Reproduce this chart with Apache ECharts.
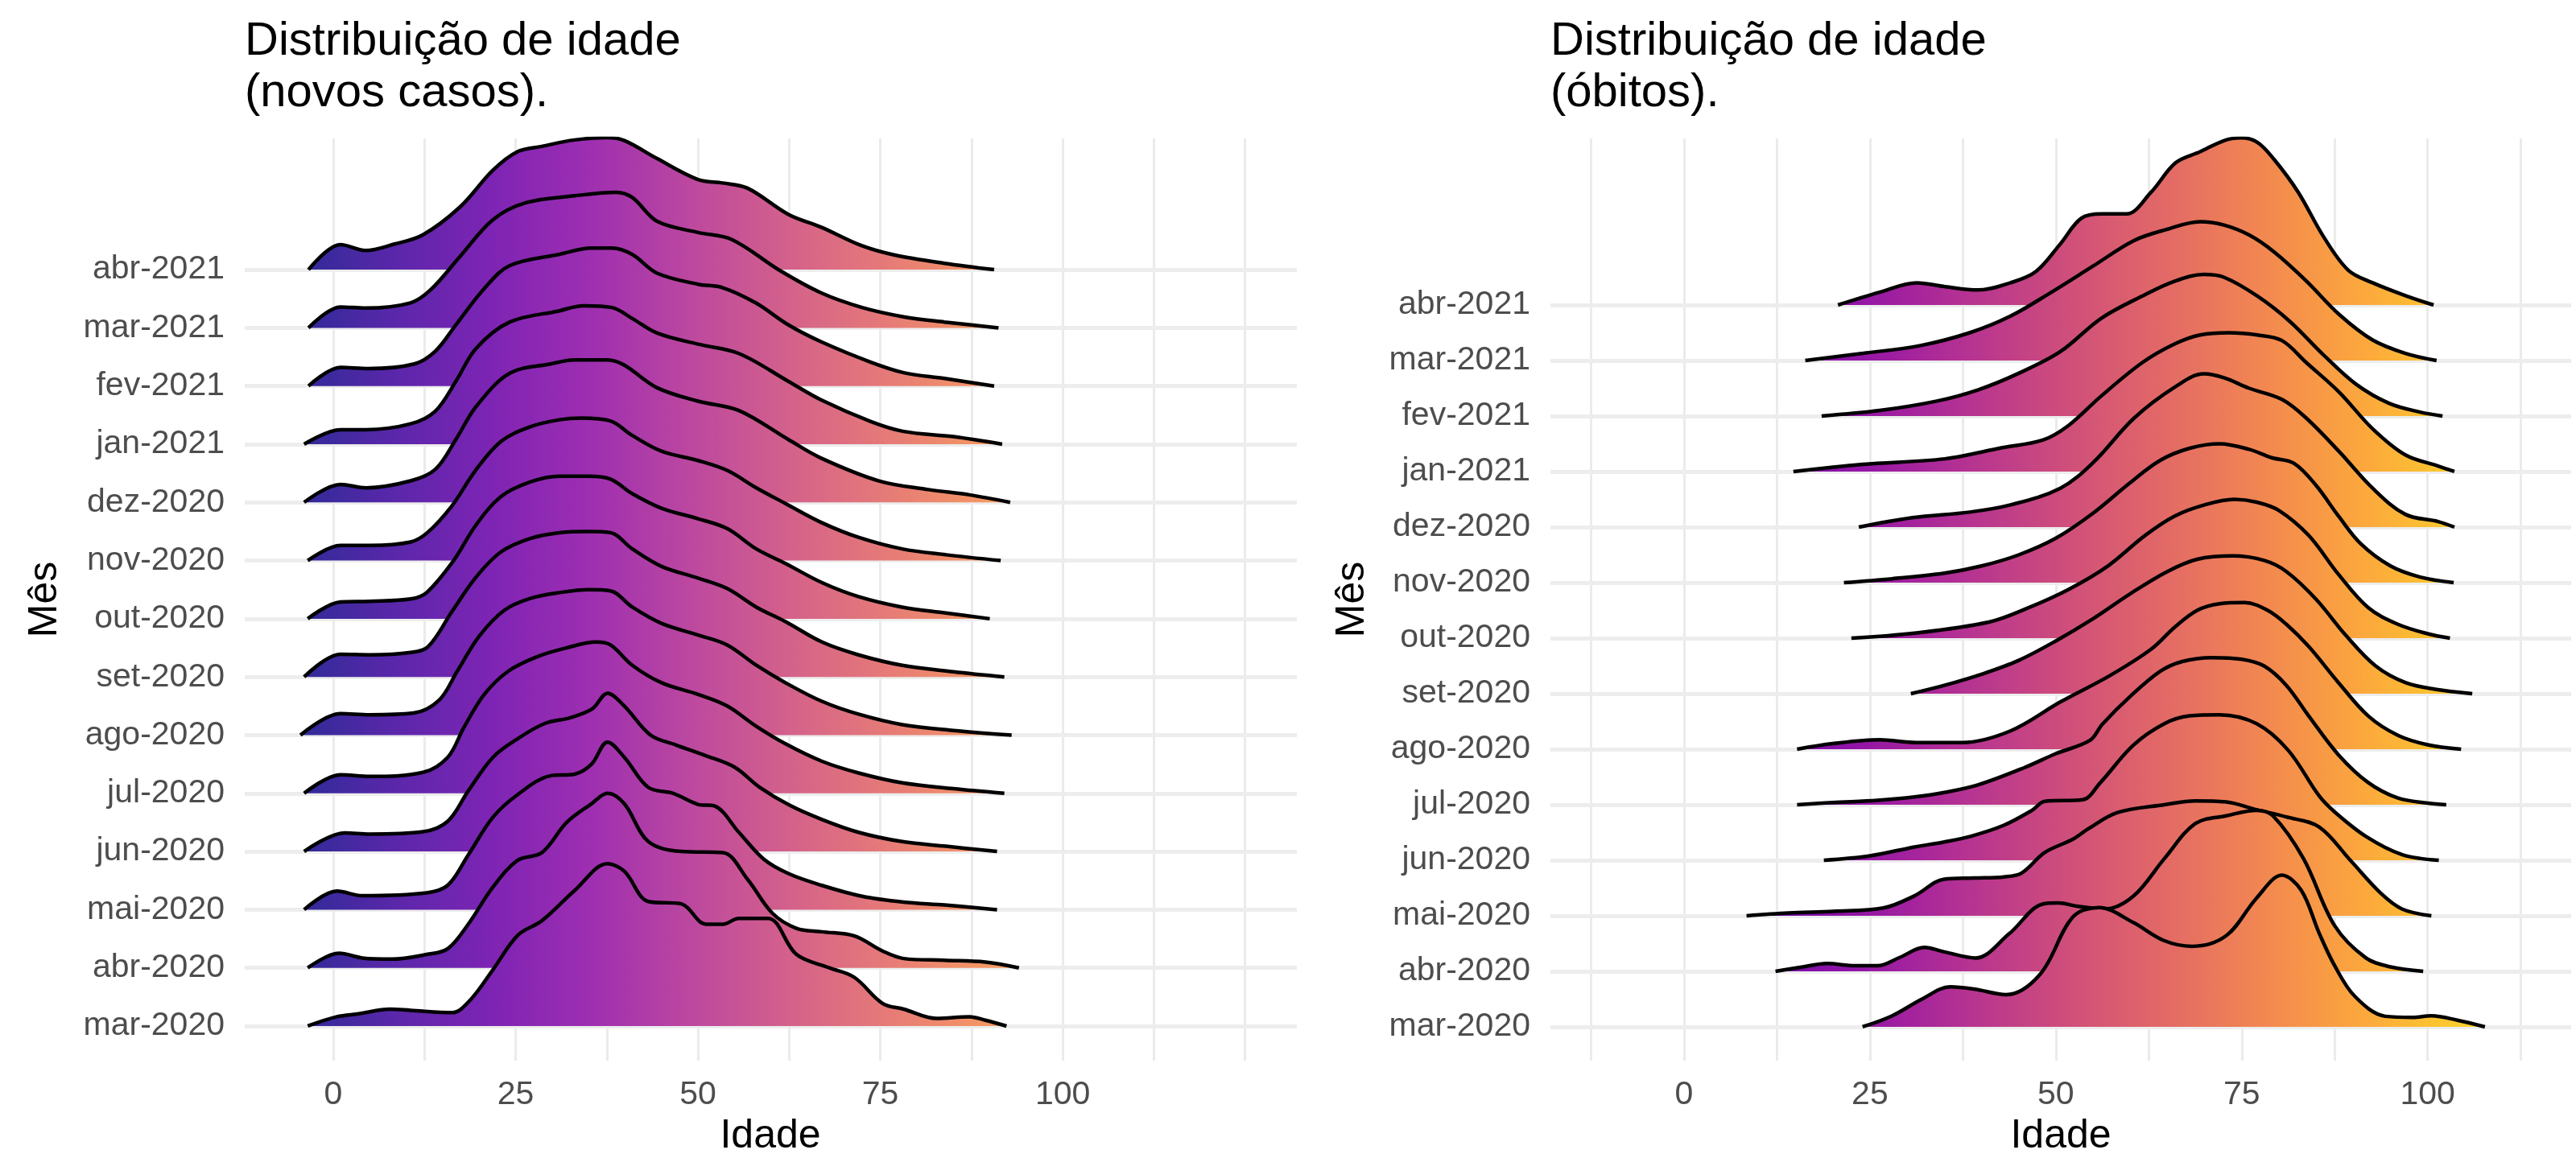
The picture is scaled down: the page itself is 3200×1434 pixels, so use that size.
<!DOCTYPE html>
<html>
<head>
<meta charset="utf-8">
<script src="https://cdn.jsdelivr.net/npm/echarts@6/dist/echarts.min.js"></script>
<style>
  html, body { margin: 0; padding: 0; background: #fff; }
  #chart { width: 3200px; height: 1434px; }
</style>
</head>
<body>
<div id="chart"></div>
<script>
const meses = [
  "mar-2020", "abr-2020", "mai-2020", "jun-2020", "jul-2020", "ago-2020", "set-2020",
  "out-2020", "nov-2020", "dez-2020", "jan-2021", "fev-2021", "mar-2021", "abr-2021",
];
const ticksIdade = [0, 25, 50, 75, 100];

// novos casos: [idade, altura da crista (em linhas)]
const casosMar2020 = [[-3.5,0],[0.5,0.16],[3.5,0.21],[7.8,0.29],[10.6,0.27],[16.3,0.23],[18.8,0.45],[21.9,0.97],[25.3,1.56],[28.6,1.81],[33.1,2.33],[37.6,2.79],[39.9,2.66],[43.2,2.14],[47.7,2.1],[51.1,1.75],[53.4,1.75],[55.6,1.85],[59.6,1.85],[63.5,1.23],[68,1.0],[71.4,0.84],[75.3,0.39],[78.2,0.29],[82.7,0.13],[87.2,0.16],[89.4,0.1],[92.3,0]];
const casosAbr2020 = [[-3.5,0],[0.8,0.25],[4,0.17],[8,0.15],[12.8,0.23],[15.7,0.33],[18.5,0.75],[21.9,1.39],[25.3,1.85],[28.6,1.98],[32,2.5],[35.4,2.82],[37.6,3.0],[39.9,2.82],[43.2,2.17],[47.7,2.0],[53.4,1.98],[56.8,1.52],[60.2,0.94],[63.5,0.68],[67,0.62],[71.4,0.55],[75.3,0.29],[78.2,0.16],[83.8,0.13],[89.4,0.1],[94,0]];
const casosMai2020 = [[-4,0],[0.5,0.32],[4,0.24],[12.8,0.29],[15.7,0.42],[18.5,0.94],[21.9,1.59],[25.3,1.98],[29.7,2.3],[33.1,2.33],[35.4,2.5],[37.6,2.88],[39.9,2.62],[43.2,2.1],[46.6,2.0],[50,1.81],[52.3,1.78],[55.6,1.33],[59,0.87],[62.4,0.62],[66.9,0.42],[72.5,0.23],[78.2,0.13],[83.8,0.08],[91,0]];
const casosJun2020 = [[-4,0],[1.6,0.32],[5,0.3],[12.3,0.34],[15.7,0.52],[18.5,1.04],[21.9,1.62],[25.3,1.94],[29,2.2],[32.5,2.3],[35.5,2.45],[37.6,2.72],[39.9,2.5],[43.5,2.0],[47,1.83],[51,1.65],[55,1.45],[58.5,1.1],[62.5,0.8],[67,0.55],[72,0.33],[78,0.17],[84,0.09],[91,0]];
const casosJul2020 = [[-4,0],[1,0.32],[5,0.29],[12.3,0.36],[15.7,0.62],[17.9,1.13],[20.7,1.7],[24,2.1],[28,2.35],[32,2.5],[36,2.6],[38,2.55],[41,2.2],[45,1.9],[50,1.7],[54,1.5],[58,1.15],[62,0.85],[67,0.55],[72,0.35],[78,0.18],[85,0.08],[92,0]];
const casosAgo2020 = [[-4.5,0],[1,0.37],[5,0.35],[11,0.38],[14.5,0.6],[17,1.1],[20,1.7],[23.5,2.15],[27,2.35],[31,2.45],[35,2.5],[38,2.48],[41,2.2],[45,1.92],[50,1.72],[54,1.55],[58,1.2],[62,0.9],[67,0.58],[72,0.36],[78,0.18],[85,0.08],[93,0]];
const casosSet2020 = [[-4,0],[1,0.39],[5,0.38],[10.6,0.42],[13,0.52],[16.3,1.13],[19.6,1.72],[23,2.15],[27,2.38],[31,2.48],[35,2.5],[38,2.48],[41,2.2],[45,1.9],[50,1.7],[54,1.52],[58,1.2],[62,0.95],[67,0.6],[72,0.38],[78,0.2],[85,0.09],[92,0]];
const casosOut2020 = [[-3.5,0],[1,0.29],[5,0.3],[10.6,0.34],[12.8,0.45],[16.5,1.0],[19.5,1.6],[23,2.1],[27,2.35],[31,2.45],[35,2.45],[38,2.4],[41,2.15],[45,1.9],[50,1.72],[54,1.55],[58,1.2],[62,0.95],[67,0.62],[72,0.38],[78,0.2],[84,0.1],[90,0]];
const casosNov2020 = [[-3.5,0],[1,0.26],[5,0.26],[10.6,0.32],[12.9,0.48],[16.2,0.93],[19.5,1.55],[23,2.05],[27,2.3],[31,2.42],[34,2.45],[38,2.4],[41,2.15],[45,1.88],[50,1.72],[54,1.55],[58,1.25],[62,0.98],[67,0.65],[72,0.4],[78,0.2],[84,0.1],[91.5,0]];
const casosDez2020 = [[-4,0],[1,0.31],[4.5,0.25],[10.6,0.37],[14,0.57],[16.8,1.08],[19.6,1.65],[24.2,2.22],[29.8,2.38],[33.1,2.45],[37.6,2.45],[39.9,2.36],[44.4,1.97],[50,1.74],[55.6,1.58],[62.4,1.08],[66.9,0.76],[74.8,0.37],[81.6,0.22],[87.2,0.13],[92.8,0]];
const casosJan2021 = [[-4,0],[1,0.25],[4.5,0.25],[10.6,0.35],[14,0.57],[16.8,1.08],[19.6,1.65],[24.2,2.1],[30.9,2.29],[34.3,2.38],[38.2,2.35],[41,2.16],[44.4,1.91],[50,1.72],[55.6,1.56],[62.4,1.08],[66.9,0.76],[73.7,0.39],[78.2,0.22],[85,0.13],[91.7,0]];
const casosFev2021 = [[-3.4,0],[1,0.32],[4.8,0.3],[11.1,0.38],[14,0.6],[16.8,1.05],[20.8,1.69],[24.2,2.07],[30.9,2.26],[35.4,2.37],[38.2,2.37],[41,2.26],[44.4,1.94],[50,1.75],[53.4,1.69],[57.9,1.43],[62.4,1.05],[66.9,0.76],[73.7,0.41],[78.2,0.23],[83.8,0.13],[90.6,0]];
const casosMar2021 = [[-3.4,0],[1,0.36],[4.4,0.34],[10.6,0.43],[13.4,0.66],[17.4,1.23],[21.9,1.86],[26.4,2.15],[33.1,2.27],[38.8,2.33],[41,2.24],[44.4,1.83],[50,1.64],[54.6,1.52],[61.3,0.98],[66.9,0.6],[72.5,0.35],[78.2,0.19],[83.8,0.1],[91.2,0]];
const casosAbr2021 = [[-3.4,0],[1,0.43],[4.4,0.33],[8.4,0.44],[12.3,0.6],[17.4,1.08],[21.9,1.71],[25.3,2.03],[28.6,2.12],[33.1,2.23],[37.6,2.27],[39.9,2.22],[44.4,1.91],[50,1.55],[53.4,1.49],[56.8,1.4],[62.4,0.95],[66.9,0.73],[72.5,0.41],[77,0.25],[83.8,0.11],[90.6,0]];

// óbitos: [idade, altura da crista (em linhas)]
const obitosMar2020 = [[24,0],[28,0.2],[32,0.5],[35.8,0.72],[39,0.68],[43.3,0.58],[47.9,0.95],[52.3,1.98],[55.8,2.15],[60.4,1.88],[64.6,1.55],[68.3,1.45],[72.9,1.64],[77,2.32],[80.4,2.73],[83,2.46],[85.4,1.69],[87.5,1.1],[90.2,0.55],[94.3,0.19],[98,0.17],[100.5,0.2],[104,0.12],[107.7,0]];
const obitosAbr2020 = [[12.3,0],[16,0.08],[19.2,0.14],[23,0.1],[26,0.1],[29,0.25],[32.3,0.43],[35,0.35],[39.2,0.24],[43.75,0.68],[48.2,1.21],[50.3,1.23],[53,1.17],[56.5,1.12],[60.4,1.35],[64.6,2.03],[68.75,2.66],[72.9,2.8],[77,2.9],[79.2,2.8],[83.3,2.03],[87.5,0.82],[91.7,0.24],[95,0.08],[99.4,0]];
const obitosMai2020 = [[8.4,0],[14,0.05],[20,0.08],[26.8,0.14],[31,0.36],[35,0.66],[39,0.68],[43,0.7],[45.4,0.77],[48.5,1.14],[52.3,1.38],[54.4,1.57],[58.3,1.86],[64.6,2.0],[68.75,2.07],[72.9,2.05],[77,1.91],[81,1.78],[85.4,1.6],[89.6,1.0],[93.75,0.4],[96.6,0.12],[100.5,0]];
const obitosJun2020 = [[18.8,0],[25,0.08],[31,0.24],[35,0.33],[38.5,0.43],[43,0.63],[46.8,0.9],[48.5,1.06],[53.6,1.09],[56,1.4],[60.4,2.07],[64.6,2.46],[68,2.6],[72,2.62],[77,2.46],[81.25,1.98],[85.4,1.16],[87.5,0.87],[91.7,0.43],[96.6,0.1],[101.5,0]];
const obitosJul2020 = [[15.2,0],[20,0.04],[26,0.08],[31,0.14],[35,0.22],[39.6,0.36],[45.8,0.67],[50,0.92],[54.6,1.16],[56.25,1.45],[60,1.95],[64,2.4],[67,2.58],[71,2.65],[75,2.62],[78,2.5],[81,2.15],[84,1.6],[88,0.9],[92,0.4],[96,0.12],[100,0.03],[102.5,0]];
const obitosAgo2020 = [[15.2,0],[20,0.1],[26.3,0.17],[31.25,0.12],[37.4,0.12],[43.9,0.33],[50.6,0.85],[57.2,1.32],[62.8,1.8],[66,2.2],[69,2.5],[72,2.62],[75.4,2.64],[78.5,2.5],[81,2.25],[84,1.85],[88,1.2],[92,0.6],[96,0.25],[100,0.08],[104.5,0]];
const obitosSet2020 = [[30.5,0],[35,0.15],[40,0.35],[45,0.6],[50,0.95],[55,1.35],[60,1.8],[65,2.2],[69,2.42],[73.8,2.48],[78,2.4],[81,2.2],[85,1.7],[89,1.05],[93,0.5],[97,0.2],[101,0.08],[106,0]];
const obitosOut2020 = [[22.5,0],[31,0.09],[41,0.29],[46,0.53],[51.6,0.87],[57,1.3],[62,1.85],[66,2.2],[70,2.4],[74,2.5],[77,2.45],[80,2.3],[84,1.85],[88,1.15],[92,0.55],[96,0.25],[100,0.08],[103,0]];
const obitosNov2020 = [[21.5,0],[28,0.07],[35,0.17],[40,0.3],[45,0.5],[50,0.8],[55,1.25],[60,1.8],[64,2.2],[68,2.42],[72,2.5],[76,2.4],[79,2.25],[82,2.15],[85,1.75],[88,1.2],[91,0.7],[95,0.3],[99,0.1],[103.5,0]];
const obitosDez2020 = [[23.5,0],[30.7,0.17],[38.4,0.27],[43.9,0.4],[50.6,0.7],[55,1.16],[60.5,1.96],[66.1,2.53],[69.9,2.76],[72.6,2.69],[76,2.5],[80.4,2.3],[83.7,1.96],[88.1,1.36],[92.6,0.7],[97,0.23],[101.4,0.1],[103.6,0]];
const obitosJan2021 = [[14.7,0],[24,0.13],[35.1,0.23],[42.8,0.43],[48.3,0.57],[51.7,0.83],[56.1,1.36],[61.6,1.96],[66,2.3],[69.4,2.46],[73.3,2.5],[77.1,2.46],[80.4,2.36],[83.7,1.96],[88.1,1.43],[92.6,0.77],[97,0.3],[101.4,0.1],[103.6,0]];
const obitosFev2021 = [[18.5,0],[26.3,0.1],[34,0.27],[39.5,0.47],[45,0.77],[50.6,1.16],[56.1,1.76],[61.6,2.16],[66,2.43],[69.9,2.55],[72.6,2.5],[77.1,2.16],[81.5,1.7],[86,1.1],[90.4,0.57],[94.8,0.23],[99,0.07],[102,0]];
const obitosMar2021 = [[16.3,0],[24.1,0.13],[31.8,0.27],[38.4,0.5],[43.9,0.8],[49.4,1.23],[55,1.7],[60.5,2.16],[64.9,2.36],[69.4,2.5],[72.6,2.44],[76,2.26],[79.3,1.96],[83.7,1.43],[88.1,0.83],[92.6,0.37],[97,0.13],[101.2,0]];
const obitosAbr2021 = [[20.7,0],[26.3,0.23],[31.3,0.4],[35.1,0.33],[39.5,0.27],[43.9,0.4],[47.3,0.6],[50.6,1.1],[53.4,1.56],[56.2,1.64],[59.5,1.64],[62.8,2.03],[66.1,2.56],[69.4,2.76],[72.6,2.96],[74.9,3.01],[77.1,2.93],[79.3,2.63],[82.6,2.03],[86,1.23],[89.3,0.63],[92.6,0.4],[97,0.17],[100.8,0]];

const ridgesCasos = [casosMar2020, casosAbr2020, casosMai2020, casosJun2020, casosJul2020, casosAgo2020, casosSet2020,
  casosOut2020, casosNov2020, casosDez2020, casosJan2021, casosFev2021, casosMar2021, casosAbr2021];
const ridgesObitos = [obitosMar2020, obitosAbr2020, obitosMai2020, obitosJun2020, obitosJul2020, obitosAgo2020, obitosSet2020,
  obitosOut2020, obitosNov2020, obitosDez2020, obitosJan2021, obitosFev2021, obitosMar2021, obitosAbr2021];

const FONT = "'Liberation Sans', Helvetica, Arial, sans-serif";
const plasma = ["#0d0887", "#41049d", "#6a00a8", "#8f0da4", "#b12a90", "#cc4778",
  "#e16462", "#f2844b", "#fca636", "#fcce25", "#f0f921"];

function hexToRgb(h) {
  return [1, 3, 5].map((i) => parseInt(h.slice(i, i + 2), 16));
}

// cor plasma em t, clareada com um pouco de branco (mix)
function plasmaAt(t, mix) {
  t = Math.max(0, Math.min(1, t));
  const pos = t * (plasma.length - 1);
  const i = Math.min(Math.floor(pos), plasma.length - 2);
  const f = pos - i;
  const a = hexToRgb(plasma[i]);
  const b = hexToRgb(plasma[i + 1]);
  const c = a.map((v, j) => {
    const x = v + (b[j] - v) * f;
    return Math.round(x + (255 - x) * mix);
  });
  return `rgb(${c[0]},${c[1]},${c[2]})`;
}

// painel: limites do eixo x, escala de cor e posição da grade
const panels = [
  { ridges: ridgesCasos, xmin: -12.14, xmax: 132.1, ymin: -0.595, ymax: 15.256,
    cmin: -4.5, cmax: 129, mix: 0.14,
    grid: { left: 304, top: 172, width: 1307, height: 1146 },
    vlines: [0, 12.5, 25, 37.5, 50, 62.5, 75, 87.5, 100, 112.5, 125] },
  { ridges: ridgesObitos, xmin: -17.97, xmax: 119.3, ymin: -0.609, ymax: 16.0,
    cmin: -17.97, cmax: 119.3, mix: 0.03,
    grid: { left: 1926, top: 172, width: 1268, height: 1146 },
    vlines: [-12.5, 0, 12.5, 25, 37.5, 50, 62.5, 75, 87.5, 100, 112.5] },
];

const grids = [], xAxes = [], yAxes = [], series = [];

panels.forEach((p, g) => {
  grids.push(p.grid);
  xAxes.push({
    type: "value", gridIndex: g, min: p.xmin, max: p.xmax,
    axisLine: { show: false }, axisTick: { show: false }, splitLine: { show: false },
    axisLabel: { customValues: ticksIdade, color: "#4d4d4d", fontSize: 41, fontFamily: FONT, margin: 22 },
  });
  yAxes.push({
    type: "value", gridIndex: g, min: p.ymin, max: p.ymax,
    axisLine: { show: false }, axisTick: { show: false }, splitLine: { show: false },
    axisLabel: {
      customValues: meses.map((m, k) => k),
      formatter: (v) => meses[Math.round(v)],
      color: "#4d4d4d", fontSize: 41, fontFamily: FONT, margin: 25,
    },
  });

  const n = p.ridges.length;
  // desenha de cima para baixo: as cristas de baixo ficam por cima
  for (let k = n - 1; k >= 0; k--) {
    const pts = p.ridges[k];
    const a0 = pts[0][0];
    const a1 = pts[pts.length - 1][0];
    const stops = [];
    for (let i = 0; i <= 30; i++) {
      const age = a0 + ((a1 - a0) * i) / 30;
      stops.push({ offset: i / 30, color: plasmaAt((age - p.cmin) / (p.cmax - p.cmin), p.mix) });
    }
    const s = {
      type: "line",
      xAxisIndex: g,
      yAxisIndex: g,
      data: pts.map((d) => [d[0], k + d[1]]),
      smooth: 0.35,
      symbol: "none",
      silent: true,
      animation: false,
      z: 10 + (n - k),
      lineStyle: { color: "#000", width: 4.5 },
      areaStyle: { origin: k, opacity: 1, color: new echarts.graphic.LinearGradient(0, 0, 1, 0, stops) },
    };
    if (k === n - 1) {
      // linhas de grade
      s.markLine = {
        z: 1, silent: true, symbol: ["none", "none"], label: { show: false }, animation: false,
        data: [
          ...p.vlines.map((v) => ({ xAxis: v, lineStyle: { color: "#ebebeb", width: 3, type: "solid" } })),
          ...meses.map((m, i) => ({ yAxis: i, lineStyle: { color: "#ededed", width: 5, type: "solid" } })),
        ],
      };
    }
    series.push(s);
  }
});

const titleStyle = { fontSize: 58, lineHeight: 64, fontWeight: "normal", color: "#000", fontFamily: FONT };
const axisTitle = (text, x, y, rot) => ({
  type: "text", x, y, rotation: rot,
  style: { text, fontSize: 50, fontFamily: FONT, fill: "#000", textAlign: "center", textVerticalAlign: "middle" },
});

const chart = echarts.init(document.getElementById("chart"));
chart.setOption({
  backgroundColor: "#fff",
  animation: false,
  title: [
    { text: "Distribuição de idade\n(novos casos).", left: 304, top: 20, padding: 0, textStyle: titleStyle },
    { text: "Distribuição de idade\n(óbitos).", left: 1926, top: 20, padding: 0, textStyle: titleStyle },
  ],
  grid: grids,
  xAxis: xAxes,
  yAxis: yAxes,
  series: series,
  graphic: [
    axisTitle("Mês", 56, 745, Math.PI / 2),
    axisTitle("Mês", 1680, 745, Math.PI / 2),
    axisTitle("Idade", 957, 1412, 0),
    axisTitle("Idade", 2560, 1412, 0),
  ],
});
</script>
</body>
</html>
